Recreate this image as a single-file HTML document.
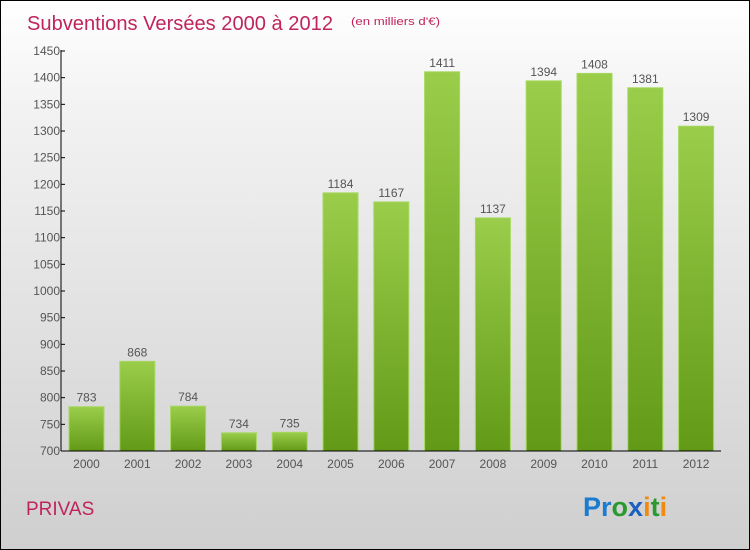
<!DOCTYPE html>
<html><head><meta charset="utf-8"><style>
body{margin:0}
#c{width:748px;height:548px;border:1px solid #000;background:linear-gradient(#fff 0%,#f2f2f2 20%,#cfcfcf 100%);position:relative;font-family:"Liberation Sans",sans-serif;overflow:hidden}
</style></head><body>
<div id="c">
<svg width="748" height="548">
<defs><linearGradient id="g" x1="0" y1="0" x2="0" y2="1"><stop offset="0" stop-color="#9acd4a"/><stop offset="1" stop-color="#629a18"/></linearGradient></defs>
<text x="26" y="29" font-size="20" fill="#c0245c" textLength="306" lengthAdjust="spacingAndGlyphs">Subventions Versées 2000 à 2012</text>
<text x="350" y="24" font-size="11" fill="#c0245c" textLength="89" lengthAdjust="spacingAndGlyphs">(en milliers d'€)</text>
<g id="plot"></g>
<text x="25" y="514" font-size="19" fill="#c0245c">PRIVAS</text>
<text x="582" y="515" font-size="27" font-weight="bold"><tspan fill="#1b7bd0">Pr</tspan><tspan fill="#2a9a30">o</tspan><tspan fill="#1b5fc0">x</tspan><tspan fill="#f08a10">i</tspan><tspan fill="#2a9a30">t</tspan><tspan fill="#f08a10">i</tspan></text>
</svg></div>
<script>
const years=["2000","2001","2002","2003","2004","2005","2006","2007","2008","2009","2010","2011","2012"];
const values=[783,868,784,734,735,1184,1167,1411,1137,1394,1408,1381,1309];
const yTicks=[700,750,800,850,900,950,1000,1050,1100,1150,1200,1250,1300,1350,1400,1450];
const ns="http://www.w3.org/2000/svg",p=document.getElementById('plot');
const y=v=>450-(v-700)*400/750, x=i=>85.5+i*50.8;
function mk(t,a,txt){const e=document.createElementNS(ns,t);for(const k in a)e.setAttribute(k,a[k]);if(txt!=null)e.textContent=txt;p.appendChild(e);return e;}
values.forEach((v,i)=>{
 const r=mk('rect',{x:x(i)-17.5,y:y(v),width:35,height:450-y(v),fill:'url(#g)',stroke:'#a6d860','stroke-width':1});
 
 
 const l=mk('text',{x:x(i),y:y(v)-5,'font-size':12,'text-anchor':'middle',fill:'#555'},v);
 
 
 const t=mk('text',{x:x(i),y:467,'font-size':12,'text-anchor':'middle',fill:'#555'},years[i]);
 
 
});
yTicks.forEach(v=>{
 const tk=mk('line',{x1:60,x2:64,y1:y(v),y2:y(v),stroke:'#000'});
 
 
 const t=mk('text',{x:59,y:y(v)+4,'font-size':12,'text-anchor':'end',fill:'#555'},v);
 
 
});
const ya=mk('line',{x1:60,x2:60,y1:49,y2:450,stroke:'#000'});


const xa=mk('line',{x1:60,x2:720,y1:450,y2:450,stroke:'#000'});


</script>
</body></html>
